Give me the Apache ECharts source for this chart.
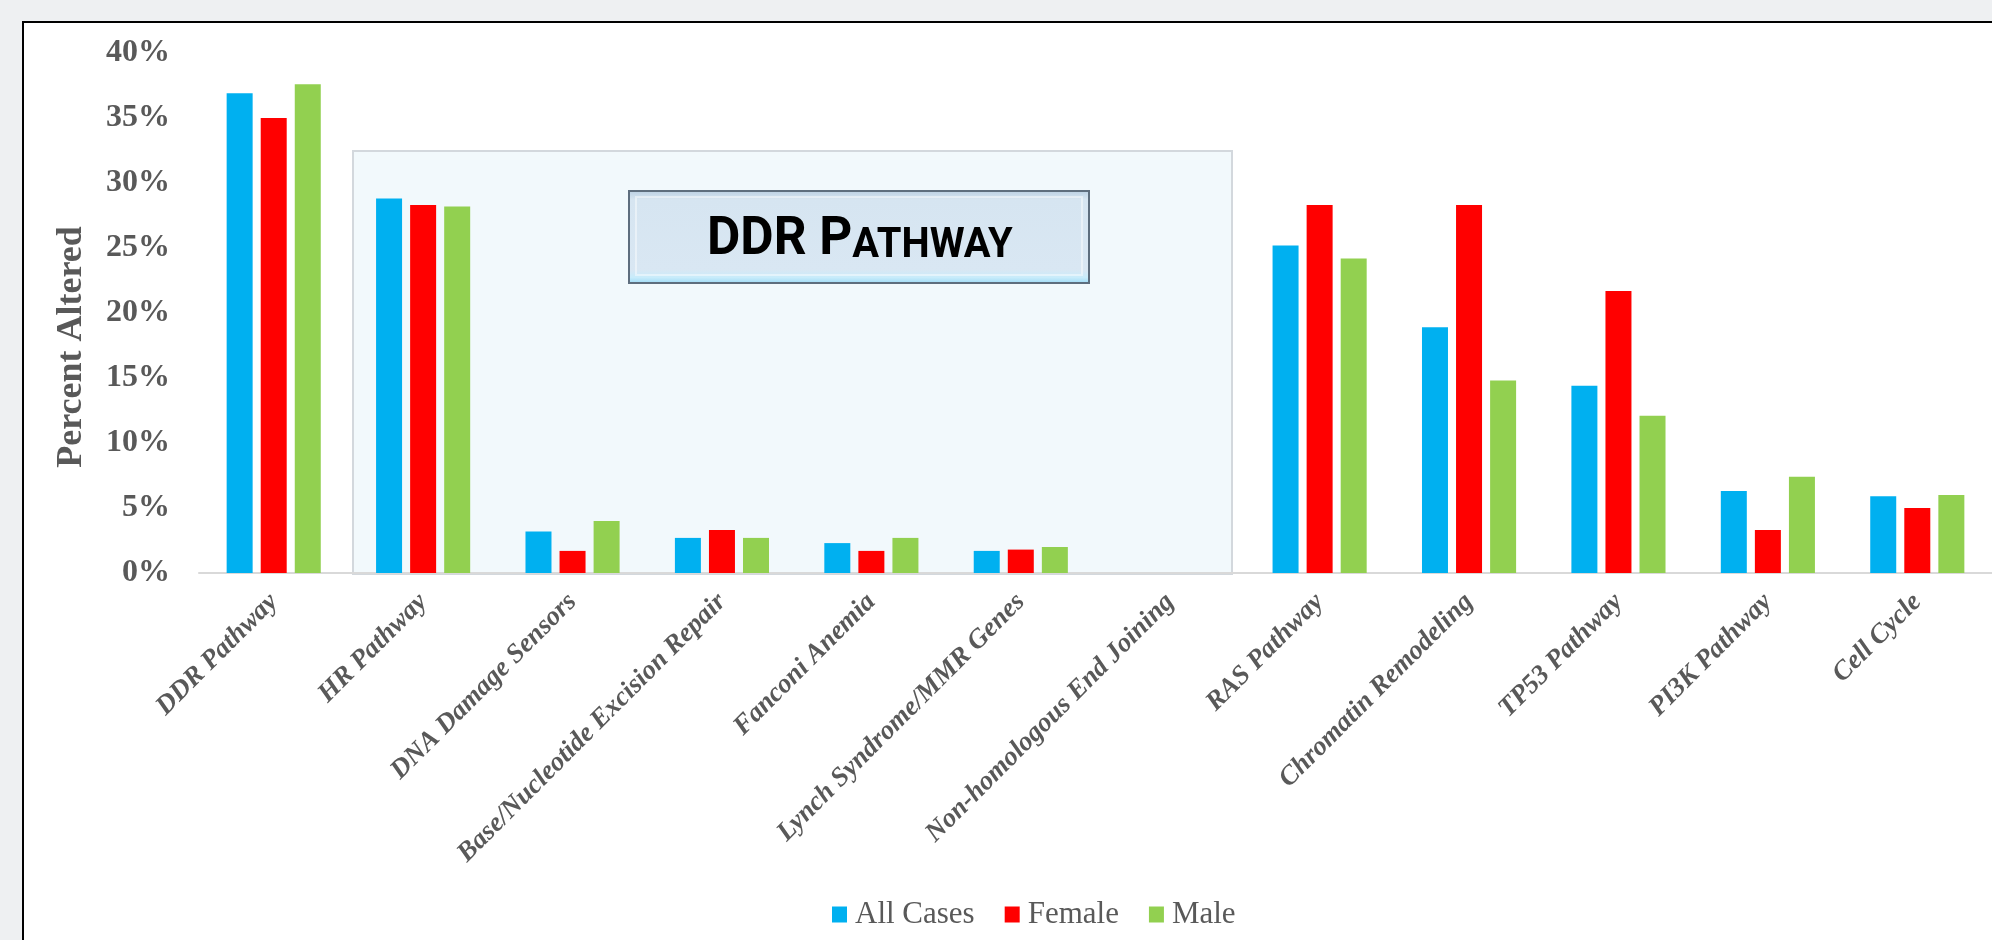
<!DOCTYPE html>
<html>
<head>
<meta charset="utf-8">
<script src="https://cdn.jsdelivr.net/npm/echarts@6/dist/echarts.min.js"></script>
<style>
  html, body { margin: 0; padding: 0; background: #eef0f2; width: 1992px; height: 940px; overflow: hidden; }
  #panel { position: absolute; left: 22px; top: 21px; width: 2100px; height: 1100px; background: #ffffff; border: 2px solid #000; box-sizing: border-box; }
  #chart { position: absolute; left: 0; top: 0; width: 1992px; height: 940px; }
</style>
</head>
<body>
<div id="panel"></div>
<div id="chart"></div>
<script>
const categories = ['DDR Pathway', 'HR Pathway', 'DNA Damage Sensors', 'Base/Nucleotide Excision Repair', 'Fanconi Anemia', 'Lynch Syndrome/MMR Genes', 'Non-homologous End Joining', 'RAS Pathway', 'Chromatin Remodeling', 'TP53 Pathway', 'PI3K Pathway', 'Cell Cycle'];
const allCases = [36.9, 28.8, 3.2, 2.7, 2.3, 1.7, 0, 25.2, 18.9, 14.4, 6.3, 5.9];
const female   = [35.0, 28.3, 1.7, 3.3, 1.7, 1.8, 0, 28.3, 28.3, 21.7, 3.3, 5.0];
const male     = [37.6, 28.2, 4.0, 2.7, 2.7, 2.0, 0, 24.2, 14.8, 12.1, 7.4, 6.0];
const seriesNames = ['All Cases', 'Female', 'Male'];
const yTitle = 'Percent Altered';
const boxTitleBig = 'DDR P';
const boxTitleSmall = 'ATHWAY';

const chart = echarts.init(document.getElementById('chart'), null, { renderer: 'canvas' });
const serif = '"Liberation Serif", "Times New Roman", serif';
const sans = 'Roboto, "Liberation Sans", sans-serif';
const grey = '#595959';

function bar(name, data, color) {
  return {
    name: name, type: 'bar', data: data, barWidth: 26, barGap: '31%',
    itemStyle: { color: color }, z: 3
  };
}

chart.setOption({
  backgroundColor: 'transparent',
  animation: false,
  grid: { left: 199, top: 53, width: 1807, height: 520, containLabel: false },
  legend: {
    data: seriesNames, left: 832, top: 899, icon: 'rect', itemWidth: 15, itemHeight: 16,
    itemGap: 30, padding: 0,
    textStyle: { fontFamily: serif, fontSize: 31, color: grey, padding: [0, 0, 0, 3] }
  },
  xAxis: {
    type: 'category', data: categories,
    axisLine: { show: true, lineStyle: { color: '#d9d9d9', width: 2 } },
    axisTick: { show: false },
    axisLabel: {
      interval: 0, rotate: 45, margin: 25,
      fontFamily: serif, fontSize: 27, fontWeight: 'bold', fontStyle: 'italic', color: grey
    }
  },
  yAxis: {
    type: 'value', min: 0, max: 40, interval: 5,
    axisLine: { show: false }, axisTick: { show: false }, splitLine: { show: false },
    axisLabel: { formatter: '{value}%', margin: 29, fontFamily: serif, fontSize: 32, fontWeight: 'bold', color: grey }
  },
  graphic: [
    {
      type: 'rect', z: 0, silent: true,
      shape: { x: 353, y: 151, width: 879, height: 423 },
      style: { fill: '#f2f9fc', stroke: '#d3d8dd', lineWidth: 2 }
    },
    {
      type: 'rect', z: 1, silent: true,
      shape: { x: 629, y: 191, width: 460, height: 92 },
      style: {
        fill: new echarts.graphic.LinearGradient(0, 0, 0, 1, [
          { offset: 0, color: '#b9cfe2' }, { offset: 0.1, color: '#d6e5f1' },
          { offset: 0.85, color: '#d9e7f3' }, { offset: 0.93, color: '#c8ecfb' }, { offset: 1, color: '#9ad9f5' }
        ]),
        stroke: '#5e6e7e', lineWidth: 2
      }
    },
    {
      type: 'rect', z: 1, silent: true,
      shape: { x: 636, y: 197, width: 446, height: 78 },
      style: { fill: 'none', stroke: 'rgba(255,255,255,0.45)', lineWidth: 2 }
    },
    {
      type: 'text', z: 2, silent: true, x: 707, y: 207, scaleX: 0.95,
      style: {
        x: 0, y: 0, align: 'left', verticalAlign: 'top',
        rich: {
          b: { fontFamily: sans, fontSize: 54, fontWeight: 'bold', fill: '#000', lineHeight: 60, verticalAlign: 'bottom' },
          s: { fontFamily: sans, fontSize: 42, fontWeight: 'bold', fill: '#000', lineHeight: 60, verticalAlign: 'bottom' }
        },
        text: '{b|' + boxTitleBig + '}{s|' + boxTitleSmall + '}'
      }
    },
    {
      type: 'text', z: 2, silent: true, x: 72, y: 347, rotation: Math.PI / 2,
      style: {
        text: yTitle, fontFamily: serif, fontSize: 36, fontWeight: 'bold', fill: grey,
        align: 'center', verticalAlign: 'middle'
      }
    }
  ],
  series: [
    bar(seriesNames[0], allCases, '#00b0f0'),
    bar(seriesNames[1], female, '#ff0000'),
    bar(seriesNames[2], male, '#92d050')
  ]
});
</script>
</body>
</html>
